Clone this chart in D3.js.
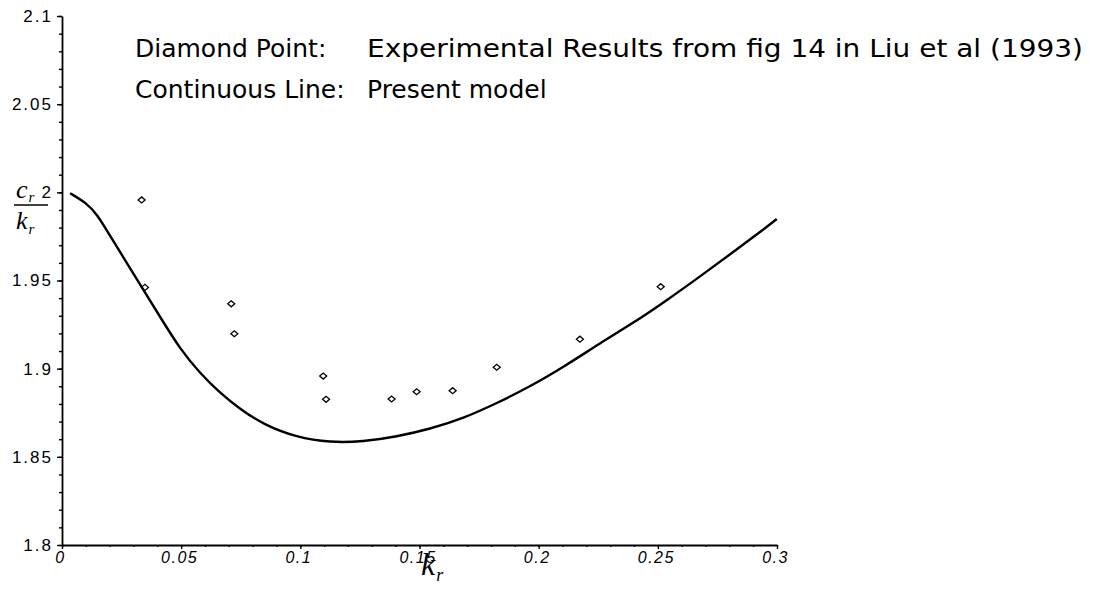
<html>
<head>
<meta charset="utf-8">
<title>cr/kr vs kr</title>
<script src="https://d3js.org/d3.v7.min.js"></script>
<style>
body { margin: 0; background: #fff; }
.tick text { fill: #000; }
</style>
</head>
<body>
<div id="chart"></div>
<script>

// data
const yTicks = [1.8, 1.85, 1.9, 1.95, 2.0, 2.05, 2.1];
const yTickLabels = ["1.8", "1.85", "1.9", "1.95", "2", "2.05", "2.1"];
const xTicks = [0, 0.05, 0.1, 0.15, 0.2, 0.25, 0.3];
const xTickLabels = ["0", "0.05", "0.1", "0.15", "0.2", "0.25", "0.3"];

// experimental points (diamonds)
const expK = [0.0334, 0.0348, 0.0710, 0.0723, 0.1096, 0.1108, 0.1383, 0.1488, 0.1639, 0.1824, 0.2173, 0.2512];
const expC = [1.9957, 1.9461, 1.9368, 1.9198, 1.8958, 1.8826, 1.8828, 1.8869, 1.8875, 1.9008, 1.9167, 1.9465];

// present model (continuous line)
const modelK = [0.0034, 0.0104, 0.0146, 0.0201, 0.0271, 0.0341, 0.0411, 0.0495, 0.0579, 0.0663, 0.0747,
  0.0845, 0.0985, 0.1124, 0.1264, 0.1404, 0.1544, 0.1684, 0.1824, 0.1964, 0.2118, 0.2257, 0.2397, 0.2537,
  0.2677, 0.2817, 0.2943, 0.2999];
const modelC = [1.9995, 1.9938, 1.9877, 1.9755, 1.9602, 1.9449, 1.9295, 1.9112, 1.8974, 1.8862, 1.8771,
  1.8683, 1.8610, 1.8581, 1.8586, 1.8614, 1.8658, 1.8718, 1.8804, 1.8898, 1.9021, 1.9144, 1.9259, 1.9387,
  1.9523, 1.9662, 1.9789, 1.9849];

const legend1 = ["Diamond Point:", "Experimental Results from fig 14 in Liu et al (1993)"];
const legend2 = ["Continuous Line:", "Present model"];

// layout
const W = 1094, H = 592;
const margin = {top: 16, right: 317, bottom: 47, left: 62};
const width = W - margin.left - margin.right,
      height = H - margin.top - margin.bottom;

const svg = d3.select("#chart").append("svg")
    .attr("width", W)
    .attr("height", H);

const g = svg.append("g")
    .attr("transform", `translate(${margin.left},${margin.top})`);

const x = d3.scaleLinear().domain([0, 0.3]).range([0, width]);
const y = d3.scaleLinear().domain([1.8, 2.1]).range([height, 0]);

// minor ticks
g.append("g")
    .call(d3.axisLeft(y).tickValues(y.ticks(30)).tickSize(3).tickFormat(""))
    .call(a => a.select(".domain").remove())
    .selectAll("line").attr("stroke-width", 1.4);
g.append("g")
    .attr("transform", `translate(0,${height})`)
    .call(d3.axisBottom(x).tickValues(x.ticks(30)).tickSize(2).tickFormat(""))
    .call(a => a.select(".domain").remove())
    .selectAll("line").attr("stroke-width", 1.4);

// Y axis
const yAxis = g.append("g")
    .call(d3.axisLeft(y).tickValues(yTicks).tickSize(5).tickSizeOuter(0)
      .tickFormat((d, i) => yTickLabels[i]));
yAxis.select(".domain").attr("stroke-width", 1.8);
yAxis.selectAll("line").attr("stroke-width", 1.4);
yAxis.selectAll("text")
    .attr("x", -9)
    .style("font-family", "'Liberation Sans', Arial, sans-serif")
    .style("font-size", "17px")
    .style("letter-spacing", "2px");

// X axis
const xAxis = g.append("g")
    .attr("transform", `translate(0,${height})`)
    .call(d3.axisBottom(x).tickValues(xTicks).tickSize(4).tickSizeOuter(0)
      .tickFormat((d, i) => xTickLabels[i]));
xAxis.select(".domain").attr("stroke-width", 1.8);
xAxis.selectAll("line").attr("stroke-width", 1.4);
xAxis.selectAll("text")
    .attr("y", 7)
    .attr("dx", -2)
    .style("font-family", "'Liberation Sans', Arial, sans-serif")
    .style("font-style", "italic")
    .style("font-size", "16px")
    .style("letter-spacing", "1.5px");

// model line
const line = d3.line()
    .x((d, i) => x(modelK[i]))
    .y((d, i) => y(modelC[i]))
    .curve(d3.curveBasis);
g.append("path")
    .datum(modelK)
    .attr("d", line)
    .attr("fill", "none")
    .attr("stroke", "#000")
    .attr("stroke-width", 2.4)
    .attr("stroke-linejoin", "round");

// diamonds
g.selectAll(".diamond")
  .data(expK)
  .join("path")
    .attr("class", "diamond")
    .attr("d", (d, i) => {
      const cx = x(d), cy = y(expC[i]);
      return `M${cx - 3.5},${cy}L${cx},${cy - 3}L${cx + 3.5},${cy}L${cx},${cy + 3}Z`;
    })
    .attr("fill", "none")
    .attr("stroke", "#000")
    .attr("stroke-width", 1.3);

// legend text
const legFont = "'DejaVu Sans', Verdana, sans-serif";
[[legend1, 57], [legend2, 98]].forEach(([txt, yy], k) => {
  svg.append("text").attr("x", 135).attr("y", yy).text(txt[0])
    .style("font-family", legFont).style("font-size", "25px");
  const t = svg.append("text").attr("x", 367).attr("y", yy).text(txt[1])
    .style("font-family", legFont).style("font-size", "25px");
  if (k === 0) t.attr("textLength", 716).attr("lengthAdjust", "spacingAndGlyphs");
});

// y axis label: c_r over k_r
const serif = "'Liberation Serif', 'Times New Roman', serif";
const yl = svg.append("g").style("font-family", serif).style("font-style", "italic");
const t1 = yl.append("text").attr("x", 16).attr("y", 198).style("font-size", "26px");
t1.append("tspan").text("c");
t1.append("tspan").attr("dx", 1).attr("dy", 4).style("font-size", "15px").text("r");
yl.append("line").attr("x1", 14).attr("x2", 48).attr("y1", 205).attr("y2", 205)
    .attr("stroke", "#000").attr("stroke-width", 1.6);
const t2 = yl.append("text").attr("x", 16).attr("y", 229).style("font-size", "26px");
t2.append("tspan").text("k");
t2.append("tspan").attr("dx", 1).attr("dy", 5).style("font-size", "15px").text("r");

// x axis label: k_r
const xl = svg.append("text").attr("x", 421).attr("y", 575)
    .style("font-family", serif).style("font-style", "italic").style("font-size", "32px");
xl.append("tspan").text("k");
xl.append("tspan").attr("dx", 1).attr("dy", 6).style("font-size", "18px").text("r");

</script>
</body>
</html>
